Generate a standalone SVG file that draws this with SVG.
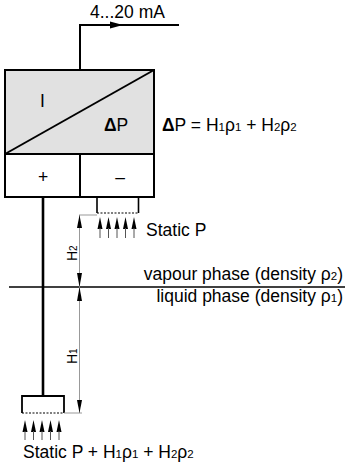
<svg xmlns="http://www.w3.org/2000/svg" width="345" height="469" viewBox="0 0 345 469">
<style>
  text { font-family: "Liberation Sans", Arial, sans-serif; font-size: 17.5px; fill: #000; }
  .sub { font-size: 11.5px; }
  .rot { font-size: 14px; }
  .rsub { font-size: 10px; }
  .thick { stroke: #000; stroke-width: 2; fill: none; }
  .dim { stroke: #999; stroke-width: 1; fill: none; }
  .shaft { stroke: #555; stroke-width: 1; fill: none; }
  .head { fill: #000; }
</style>
<defs>
  <path id="parrow" d="M0,0 L-2.5,12 L2.5,12 Z"/>
</defs>
<rect width="345" height="469" fill="#fff"/>

<g id="transmitter">
  <rect x="5" y="70" width="149" height="84" fill="#e1e1e1" stroke="#000" stroke-width="2"/>
  <line x1="5" y1="154" x2="154" y2="70" stroke="#000" stroke-width="2"/>
  <text x="40" y="107">I</text>
  <text x="104" y="131"><tspan font-weight="bold">Δ</tspan>P</text>
  <rect x="5" y="154" width="149" height="43" fill="#fff" stroke="#000" stroke-width="2"/>
  <line x1="80" y1="154" x2="80" y2="197" stroke="#000" stroke-width="2"/>
  <text x="43" y="183" text-anchor="middle">+</text>
  <text x="120" y="183" text-anchor="middle">–</text>
</g>

<g id="output">
  <text x="90" y="18">4...20 mA</text>
  <path class="thick" d="M80,70 V25 H179"/>
  <path class="head" d="M123,25 L110,21.5 L110,28.5 Z"/>
</g>

<g id="formula">
  <text x="162" y="131"><tspan font-weight="bold">Δ</tspan>P = H<tspan class="sub">1</tspan>ρ<tspan class="sub">1</tspan> + H<tspan class="sub">2</tspan>ρ<tspan class="sub">2</tspan></text>
</g>

<g id="low-side">
  <path d="M97,197 V213 M138.5,197 V213" stroke="#000" stroke-width="1.6" fill="none"/>
  <line x1="97" y1="213" x2="138.5" y2="213" stroke="#000" stroke-width="1.2" stroke-dasharray="2,1.5"/>
  <g>
    <use href="#parrow" x="100" y="217"/><use href="#parrow" x="108.5" y="217"/><use href="#parrow" x="117" y="217"/><use href="#parrow" x="125.5" y="217"/><use href="#parrow" x="134" y="217"/>
    <path class="shaft" d="M100,228 V238 M108.5,228 V238 M117,228 V238 M125.5,228 V238 M134,228 V238"/>
  </g>
  <text x="146" y="236">Static P</text>
</g>

<g id="high-side">
  <line x1="43" y1="197" x2="43" y2="396" stroke="#000" stroke-width="2.6"/>
  <path d="M22,413 V396 H64 V413" stroke="#000" stroke-width="1.8" fill="none"/>
  <line x1="22" y1="413" x2="64" y2="413" stroke="#000" stroke-width="1.2" stroke-dasharray="2,1.5"/>
  <g>
    <use href="#parrow" x="25" y="420"/><use href="#parrow" x="33.5" y="420"/><use href="#parrow" x="42" y="420"/><use href="#parrow" x="50.5" y="420"/><use href="#parrow" x="59" y="420"/>
    <path class="shaft" d="M25,431 V440 M33.5,431 V440 M42,431 V440 M50.5,431 V440 M59,431 V440"/>
  </g>
  <text x="23" y="458">Static P + H<tspan class="sub">1</tspan>ρ<tspan class="sub">1</tspan> + H<tspan class="sub">2</tspan>ρ<tspan class="sub">2</tspan></text>
</g>

<g id="level">
  <line x1="9" y1="287" x2="345" y2="287" stroke="#000" stroke-width="1.6"/>
  <text x="343" y="280" text-anchor="end">vapour phase (density ρ<tspan class="sub">2</tspan>)</text>
  <text x="343" y="302" text-anchor="end">liquid phase (density ρ<tspan class="sub">1</tspan>)</text>
</g>

<g id="connectors">
  <path class="dim" d="M79,215 H97 M79.5,215 V413 M64,413 H82"/>
  <path class="head" d="M79.5,215 L77,228 L82,228 Z"/>
  <path class="head" d="M79.5,287 L77,273 L82,273 Z"/>
  <path class="head" d="M79.5,287 L77,301 L82,301 Z"/>
  <path class="head" d="M79.5,413 L77,400 L82,400 Z"/>
  <text class="rot" transform="translate(77,261) rotate(-90)">H<tspan class="rsub">2</tspan></text>
  <text class="rot" transform="translate(77,364) rotate(-90)">H<tspan class="rsub">1</tspan></text>
</g>
</svg>
